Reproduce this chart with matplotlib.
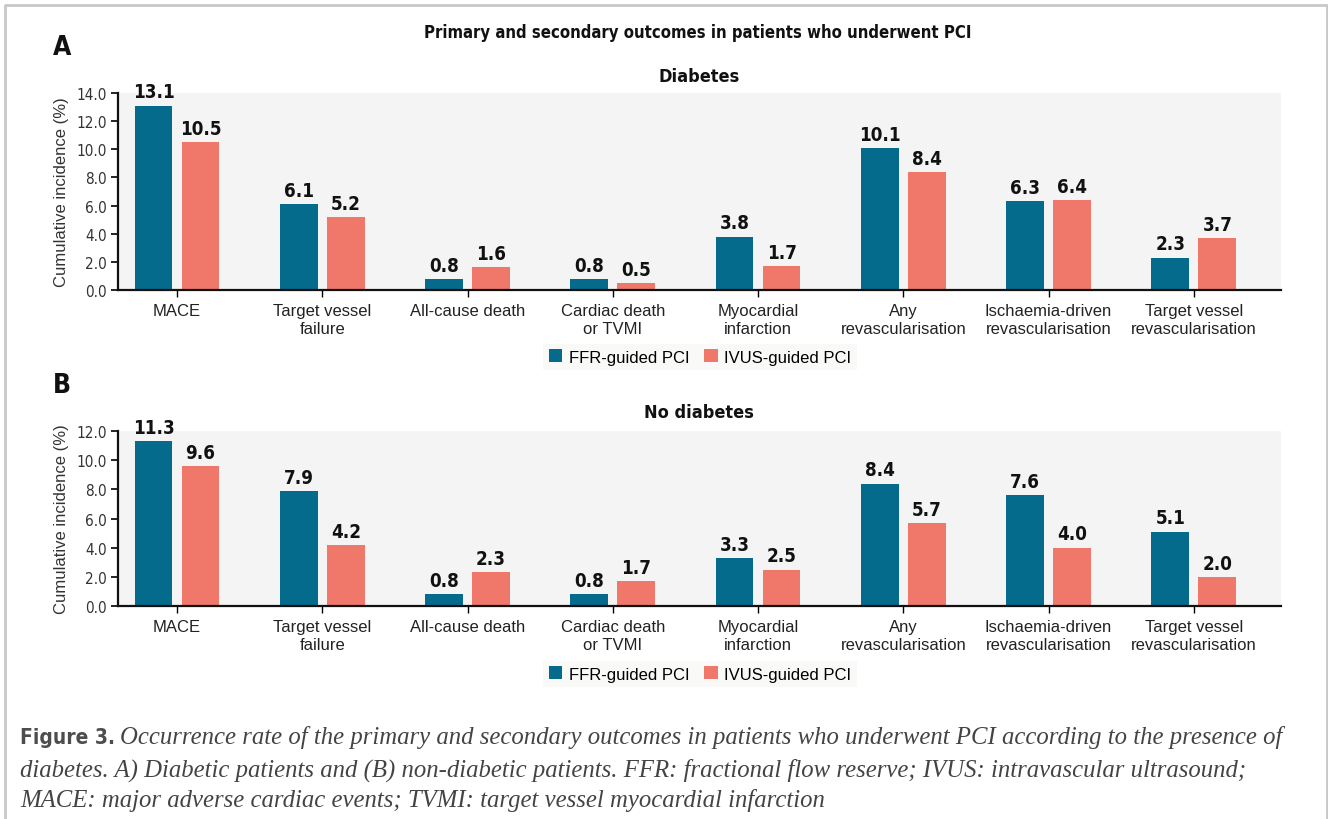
import matplotlib.pyplot as plt
from matplotlib import font_manager
from matplotlib.lines import Line2D
from matplotlib.patches import Patch
import numpy as np

categories = ["MACE", "Target vessel\nfailure", "All-cause death",
              "Cardiac death\nor TVMI", "Myocardial\ninfarction",
              "Any\nrevascularisation", "Ischaemia-driven\nrevascularisation",
              "Target vessel\nrevascularisation"]
series_names = ["FFR-guided PCI", "IVUS-guided PCI"]

diab_ffr = [13.1, 6.1, 0.8, 0.8, 3.8, 10.1, 6.3, 2.3]
diab_ivus = [10.5, 5.2, 1.6, 0.5, 1.7, 8.4, 6.4, 3.7]
nodiab_ffr = [11.3, 7.9, 0.8, 0.8, 3.3, 8.4, 7.6, 5.1]
nodiab_ivus = [9.6, 4.2, 2.3, 1.7, 2.5, 5.7, 4.0, 2.0]

diab_yticks = [0, 2, 4, 6, 8, 10, 12, 14]
nodiab_yticks = [0, 2, 4, 6, 8, 10, 12]

TEAL = "#046b8d"
SALMON = "#ef786b"
SANS = ["Liberation Sans", "DejaVu Sans"]

# headings and numbers use a condensed face when one is installed
cond = font_manager.FontProperties(family="DejaVu Sans", stretch="condensed",
                                   weight="bold")
if "Condensed" in font_manager.findfont(cond, fallback_to_default=False):
    NARROW = dict(family=["DejaVu Sans"], fontstretch="condensed")
else:
    NARROW = dict(family=["Roboto", "DejaVu Sans"])

W, H = 1328, 820
fig = plt.figure(figsize=(W / 100, H / 100), dpi=100)


def fx(px):
    return px / W


def fy(py):
    return 1 - py / H


def panel(rect, ffr, ivus, yticks):
    ax = fig.add_axes(rect)
    ax.set_facecolor("#f4f4f4")
    x = np.arange(len(categories))
    w = 0.26
    off = 0.162
    b1 = ax.bar(x - off, ffr, w, color=TEAL, zorder=2)
    b2 = ax.bar(x + off, ivus, w, color=SALMON, zorder=2)
    for bars, vals in ((b1, ffr), (b2, ivus)):
        for b, v in zip(bars, vals):
            ax.annotate(f"{v:.1f}", (b.get_x() + b.get_width() / 2, v),
                        xytext=(0, 3), textcoords="offset points",
                        ha="center", va="bottom", fontsize=13.5,
                        fontweight="bold", color="#111111", **NARROW)
    ax.set_xlim(-0.406, 7.6)
    ax.set_ylim(0, yticks[-1])
    ax.set_yticks(yticks)
    ax.set_yticklabels([f"{t:.1f}" for t in yticks], fontsize=11,
                       color="#333333", **NARROW)
    ax.set_xticks(x)
    ax.set_xticklabels(categories, family=SANS, fontsize=12,
                       color="#222222", linespacing=1.2)
    for s in ("top", "right"):
        ax.spines[s].set_visible(False)
    for s in ("left", "bottom"):
        ax.spines[s].set_linewidth(1.6)
        ax.spines[s].set_color("#111111")
    ax.tick_params(axis="y", length=5, width=1.2, pad=3)
    ax.tick_params(axis="x", length=5, width=1.0, pad=4.5)
    ax.set_ylabel("Cumulative incidence (%)", family=SANS, fontsize=12,
                  color="#333333")
    ax.yaxis.set_label_coords(-0.042, 0.5)
    return ax


# panel A: diabetes
panel([fx(118), fy(291), fx(1281 - 118), (291 - 94) / H],
      diab_ffr, diab_ivus, diab_yticks)
# panel B: no diabetes
panel([fx(118), fy(607), fx(1281 - 118), (607 - 432) / H],
      nodiab_ffr, nodiab_ivus, nodiab_yticks)

head = dict(ha="center", va="center", fontweight="bold", color="#111111",
            **NARROW)
fig.text(fx(698), fy(33), "Primary and secondary outcomes in patients who underwent PCI",
         fontsize=12, **head)
fig.text(fx(699), fy(77), "Diabetes", fontsize=13, **head)
fig.text(fx(699), fy(413), "No diabetes", fontsize=13, **head)
fig.text(fx(62), fy(48), "A", fontsize=19, **head)
fig.text(fx(62), fy(386), "B", fontsize=19, **head)

handles = [Patch(facecolor=TEAL), Patch(facecolor=SALMON)]
for ly in (358, 675):
    leg = fig.legend(handles, series_names, loc="center", ncol=2,
                     bbox_to_anchor=(fx(700), fy(ly)), frameon=True,
                     prop={"family": SANS, "size": 12},
                     handlelength=0.8, handleheight=0.8, handletextpad=0.4,
                     columnspacing=0.9, borderpad=0.35, fancybox=False)
    leg.get_frame().set_facecolor("#f8f8f6")
    leg.get_frame().set_edgecolor("none")

# thin grey frame around the figure area
fig.add_artist(Line2D([fx(5), fx(5), fx(1327), fx(1327)],
                      [0, fy(6), fy(6), 0], color="#c8c8c8", lw=2))

# caption
cap_y = [738, 770, 801]
fig_lbl = fig.text(fx(20), fy(cap_y[0]), "Figure 3.", ha="left", va="center",
                   fontsize=15, fontweight="bold", color="#4d4d4d", **NARROW)
fig.canvas.draw()
bb = fig_lbl.get_window_extent()
cap_kw = dict(ha="left", va="center", fontsize=17.8, style="italic",
              family=["Liberation Serif", "DejaVu Serif"], color="#444444")
fig.text((bb.x1 + 5) / W, fy(cap_y[0]),
         "Occurrence rate of the primary and secondary outcomes in patients "
         "who underwent PCI according to the presence of", **cap_kw)
fig.text(fx(20), fy(cap_y[1]),
         "diabetes. A) Diabetic patients and (B) non-diabetic patients. "
         "FFR: fractional flow reserve; IVUS: intravascular ultrasound;", **cap_kw)
fig.text(fx(20), fy(cap_y[2]),
         "MACE: major adverse cardiac events; TVMI: target vessel myocardial "
         "infarction", **cap_kw)

fig.savefig("out.png", dpi=100)
